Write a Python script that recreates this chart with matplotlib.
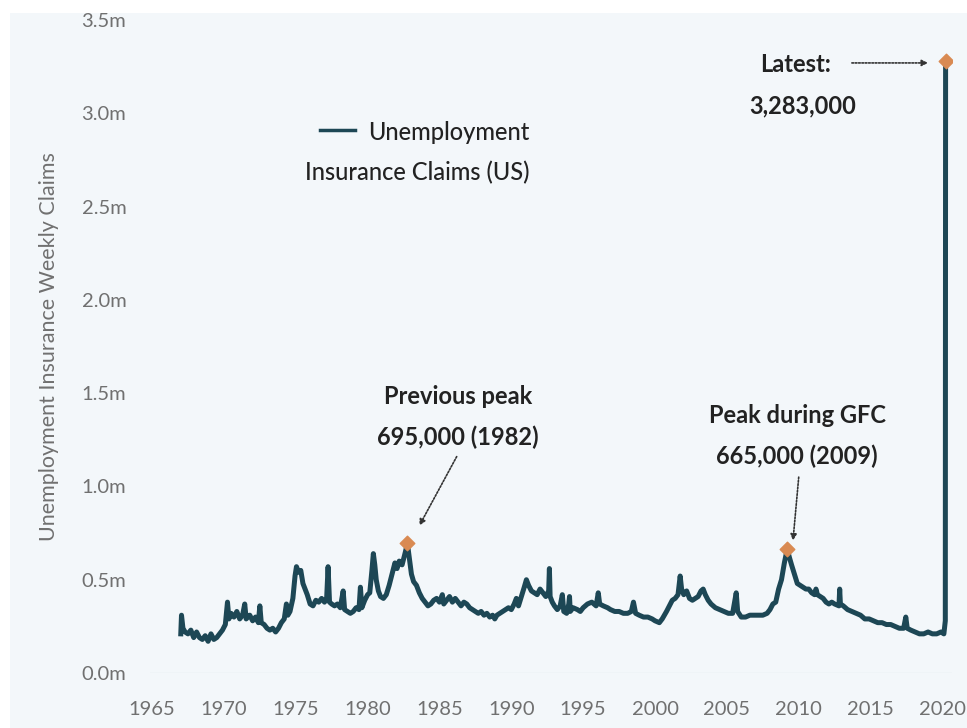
import matplotlib.pyplot as plt
from matplotlib.patches import Rectangle

plt.rcParams['font.family'] = ['Lato', 'DejaVu Sans']

# weekly claims (year, millions)
years = [
    1967.0, 1967.05, 1967.15, 1967.3, 1967.5, 1967.7, 1967.9, 1968.1, 1968.3, 1968.5,
    1968.7, 1968.9, 1969.1, 1969.3, 1969.5, 1969.7, 1969.9, 1970.1, 1970.25, 1970.35,
    1970.5, 1970.7, 1970.9, 1971.1, 1971.3, 1971.45, 1971.55, 1971.8, 1972.0, 1972.2,
    1972.4, 1972.5, 1972.6, 1972.8, 1973.0, 1973.2, 1973.4, 1973.6, 1973.8, 1974.0,
    1974.2, 1974.35, 1974.45, 1974.6, 1974.8, 1974.95, 1975.05, 1975.2, 1975.35, 1975.5,
    1975.65, 1975.8, 1976.0, 1976.2, 1976.4, 1976.6, 1976.8, 1977.0, 1977.15, 1977.25,
    1977.35, 1977.5, 1977.7, 1977.9, 1978.1, 1978.3, 1978.4, 1978.6, 1978.8, 1979.0,
    1979.2, 1979.4, 1979.5, 1979.6, 1979.8, 1980.0, 1980.15, 1980.3, 1980.4, 1980.5,
    1980.6, 1980.75, 1980.9, 1981.1, 1981.3, 1981.5, 1981.7, 1981.9, 1982.05, 1982.2,
    1982.4, 1982.6, 1982.77, 1982.9, 1983.05, 1983.2, 1983.4, 1983.6, 1983.8, 1984.0,
    1984.2, 1984.4, 1984.6, 1984.8, 1985.0, 1985.2, 1985.3, 1985.5, 1985.7, 1985.9,
    1986.1, 1986.3, 1986.5, 1986.7, 1986.9, 1987.1, 1987.3, 1987.5, 1987.7, 1987.9,
    1988.1, 1988.3, 1988.5, 1988.7, 1988.85, 1989.0, 1989.2, 1989.4, 1989.6, 1989.8,
    1990.0, 1990.2, 1990.35, 1990.5, 1990.7, 1990.9, 1991.05, 1991.2, 1991.4, 1991.6,
    1991.8, 1992.0, 1992.2, 1992.4, 1992.6, 1992.65, 1992.7, 1992.85, 1993.0, 1993.2,
    1993.4, 1993.55, 1993.65, 1993.85, 1994.0, 1994.05, 1994.1, 1994.3, 1994.6, 1994.8,
    1995.0, 1995.3, 1995.6, 1995.9, 1996.05, 1996.15, 1996.4, 1996.7, 1996.9, 1997.2,
    1997.5, 1997.8, 1998.1, 1998.35, 1998.5, 1998.65, 1998.9, 1999.2, 1999.5, 1999.8,
    2000.0, 2000.3, 2000.5, 2000.8, 2001.0, 2001.2, 2001.4, 2001.6, 2001.75, 2001.85,
    2002.0, 2002.2, 2002.4, 2002.6, 2002.8, 2003.0, 2003.2, 2003.35, 2003.5, 2003.7,
    2003.9, 2004.2, 2004.5, 2004.8, 2005.1, 2005.4, 2005.65, 2005.75, 2006.0, 2006.3,
    2006.6, 2006.9, 2007.2, 2007.5, 2007.8, 2008.0, 2008.2, 2008.4, 2008.6, 2008.8,
    2009.0, 2009.2, 2009.35, 2009.5, 2009.7, 2009.9, 2010.1, 2010.3, 2010.5, 2010.7,
    2010.9, 2011.1, 2011.2, 2011.3, 2011.5, 2011.7, 2011.9, 2012.1, 2012.3, 2012.5,
    2012.8, 2012.85, 2012.9, 2013.1, 2013.4, 2013.7, 2014.0, 2014.3, 2014.6, 2014.9,
    2015.2, 2015.5, 2015.8, 2016.1, 2016.4, 2016.7, 2017.0, 2017.3, 2017.45, 2017.55,
    2017.8, 2018.1, 2018.4, 2018.7, 2019.0, 2019.3, 2019.6, 2019.9, 2020.1, 2020.2,
    2020.22,
]
claims = [
    0.21, 0.31, 0.24, 0.22, 0.21, 0.23, 0.19, 0.22, 0.19, 0.18,
    0.20, 0.17, 0.21, 0.18, 0.19, 0.21, 0.23, 0.26, 0.38, 0.29,
    0.32, 0.30, 0.33, 0.29, 0.31, 0.37, 0.29, 0.31, 0.28, 0.30,
    0.27, 0.36, 0.27, 0.26, 0.24, 0.23, 0.24, 0.22, 0.24, 0.27,
    0.29, 0.37, 0.31, 0.33, 0.40, 0.52, 0.57, 0.54, 0.55, 0.48,
    0.45, 0.42, 0.37, 0.36, 0.39, 0.38, 0.40, 0.38, 0.40, 0.57,
    0.38, 0.37, 0.36, 0.37, 0.35, 0.44, 0.34, 0.33, 0.32, 0.33,
    0.35, 0.34, 0.46, 0.35, 0.39, 0.42, 0.43, 0.55, 0.64, 0.58,
    0.50, 0.44, 0.41, 0.40, 0.42, 0.47, 0.53, 0.59, 0.56, 0.60,
    0.58, 0.64, 0.695, 0.62, 0.53, 0.49, 0.47, 0.43, 0.40, 0.38,
    0.36, 0.37, 0.39, 0.40, 0.38, 0.42, 0.37, 0.39, 0.41, 0.38,
    0.40, 0.38, 0.36, 0.38, 0.37, 0.35, 0.34, 0.33, 0.32, 0.33,
    0.31, 0.32, 0.30, 0.31, 0.29, 0.31, 0.32, 0.33, 0.34, 0.35,
    0.34, 0.37, 0.40, 0.36, 0.41, 0.46, 0.50, 0.47, 0.44, 0.43,
    0.42, 0.45, 0.43, 0.41, 0.44, 0.56, 0.41, 0.38, 0.36, 0.34,
    0.36, 0.42, 0.33, 0.32, 0.37, 0.41, 0.33, 0.35, 0.34, 0.33,
    0.35, 0.37, 0.38, 0.36, 0.43, 0.37, 0.36, 0.35, 0.34, 0.33,
    0.33, 0.32, 0.32, 0.33, 0.38, 0.32, 0.31, 0.30, 0.30, 0.29,
    0.28, 0.27, 0.29, 0.33, 0.36, 0.39, 0.40, 0.42, 0.52, 0.45,
    0.42, 0.44, 0.40, 0.39, 0.40, 0.41, 0.44, 0.45, 0.42, 0.39,
    0.37, 0.35, 0.34, 0.33, 0.32, 0.32, 0.43, 0.33, 0.30, 0.30,
    0.31, 0.31, 0.31, 0.31, 0.32, 0.34, 0.37, 0.38, 0.45, 0.50,
    0.59, 0.665, 0.62, 0.58, 0.53, 0.48, 0.47, 0.46, 0.45, 0.45,
    0.43, 0.42, 0.45, 0.42, 0.41, 0.40, 0.38, 0.37, 0.38, 0.37,
    0.36, 0.45, 0.37, 0.36, 0.34, 0.33, 0.32, 0.31, 0.29, 0.29,
    0.28, 0.27, 0.27, 0.26, 0.26, 0.25, 0.24, 0.24, 0.30, 0.24,
    0.23, 0.22, 0.21, 0.21, 0.22, 0.21, 0.21, 0.22, 0.21, 0.28,
    3.283,
]

# highlighted points
peak_years = [1982.77, 2009.2, 2020.22]
peak_values = [0.695, 0.665, 3.283]

line_col = '#1d4755'
dot_col = '#d98a52'
bg_col = '#f3f7fa'
grey = '#707070'

fig = plt.figure(figsize=(9.67, 7.28), dpi=100, facecolor='white')
fig.patches.append(Rectangle((10 / 967, 0), 1, 715 / 728, transform=fig.transFigure,
                             facecolor=bg_col, edgecolor='none', zorder=-10))
ax = fig.add_axes([0.155, 0.0755, 0.83, 0.897])
ax.set_facecolor(bg_col)

ax.plot(years, claims, color=line_col, lw=3.6, solid_joinstyle='round', zorder=3)
ax.scatter(peak_years, peak_values, marker='D', s=55, color=dot_col, zorder=4)

ax.set_xlim(1964.85, 2020.7)
ax.set_ylim(0, 3.5)
ax.set_xticks(range(1965, 2021, 5))
ax.set_yticks([0, 0.5, 1.0, 1.5, 2.0, 2.5, 3.0, 3.5])
ax.set_yticklabels(['0.0m', '0.5m', '1.0m', '1.5m', '2.0m', '2.5m', '3.0m', '3.5m'])
ax.tick_params(length=0, labelsize=14.5, colors=grey)
ax.tick_params(axis='y', pad=17)
ax.tick_params(axis='x', pad=20)
for s in ax.spines.values():
    s.set_visible(False)
ax.axhline(0, color='#e2e8ec', lw=1, zorder=1)
ax.set_ylabel('Unemployment Insurance Weekly Claims', fontsize=15.5, color=grey, labelpad=16)

txt = dict(fontsize=17, color='#222222', fontweight='bold', ha='center')
arrow = dict(arrowstyle='-|>', linestyle=(0, (1, 1)), color='#333333', lw=1.2,
             mutation_scale=9, shrinkA=0, shrinkB=0)

ax.text(1986.3, 1.44, 'Previous peak', **txt)
ax.text(1986.3, 1.22, '695,000 (1982)', **txt)
ax.annotate('', xy=(1983.6, 0.79), xytext=(1986.2, 1.16), arrowprops=arrow)

ax.text(2009.9, 1.34, 'Peak during GFC', **txt)
ax.text(2009.9, 1.12, '665,000 (2009)', **txt)
ax.annotate('', xy=(2009.6, 0.71), xytext=(2010.0, 1.05), arrowprops=arrow)

ax.text(2009.8, 3.22, 'Latest:', **txt)
ax.text(2010.3, 3.0, '3,283,000', **txt)
ax.annotate('', xy=(2019.0, 3.27), xytext=(2013.7, 3.27), arrowprops=arrow)

# legend drawn by hand: handle left of first line, text right-aligned
ax.plot([0.212, 0.255], [0.8315, 0.8315], transform=ax.transAxes, color=line_col, lw=2.5)
ax.text(0.473, 0.828, 'Unemployment', transform=ax.transAxes, fontsize=17,
        color='#222222', fontweight='medium', ha='right', va='center')
ax.text(0.473, 0.767, 'Insurance Claims (US)', transform=ax.transAxes, fontsize=17,
        color='#222222', fontweight='medium', ha='right', va='center')

fig.savefig('out.png', dpi=100, facecolor=fig.get_facecolor())
